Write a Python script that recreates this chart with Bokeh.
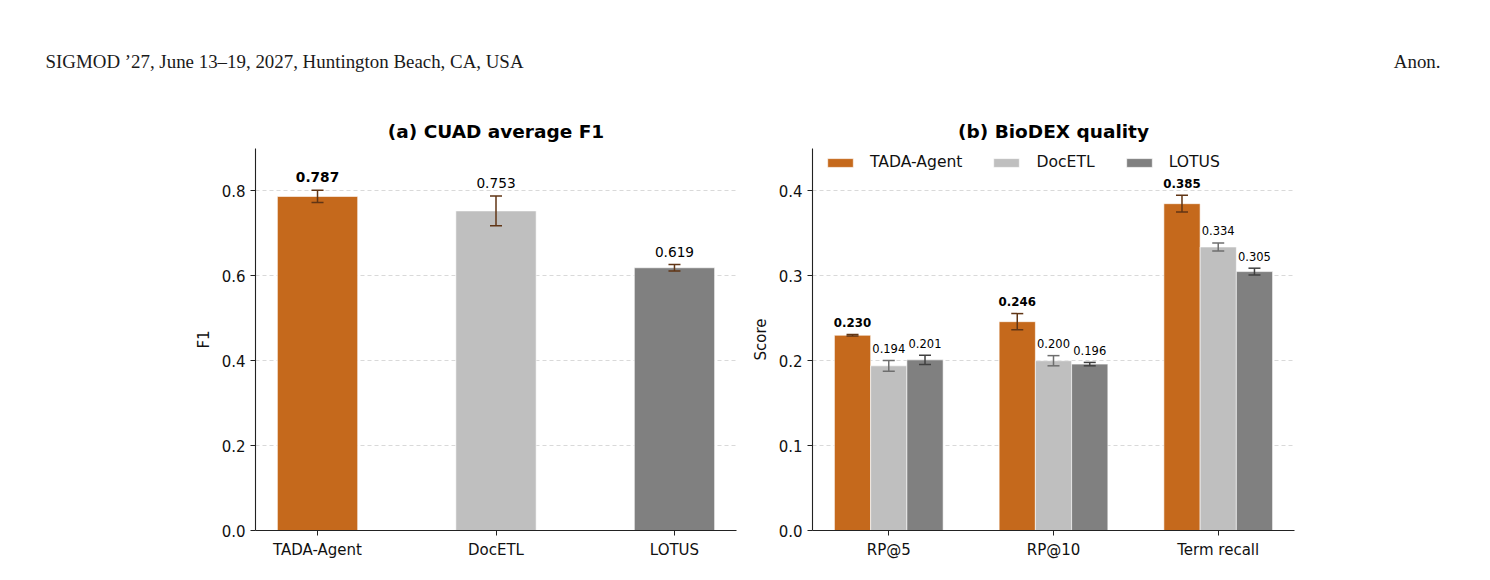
from bokeh.plotting import figure
from bokeh.models import (Range1d, FixedTicker, Whisker, TeeHead, ColumnDataSource,
                          Title, Legend, LegendItem, PrintfTickFormatter)
from bokeh.layouts import row
from bokeh.embed import file_html
from bokeh.resources import INLINE
from bokeh.core.properties import value

# ---------------- data ----------------
systems = ["TADA-Agent", "DocETL", "LOTUS"]
colors = ["#c5691c", "#bfbfbf", "#808080"]
err_colors = ["#603515", "#6e6e6e", "#404040"]

cuad_f1 = [0.787, 0.753, 0.619]
cuad_err = [0.0145, 0.035, 0.0075]

biodex_metrics = ["RP@5", "RP@10", "Term recall"]
biodex_tada = [0.230, 0.246, 0.385]
biodex_tada_err = [0.001, 0.0095, 0.0098]
biodex_docetl = [0.194, 0.200, 0.334]
biodex_docetl_err = [0.0063, 0.006, 0.0047]
biodex_lotus = [0.201, 0.196, 0.305]
biodex_lotus_err = [0.0055, 0.002, 0.004]

header_left = "SIGMOD \u201927, June 13\u201319, 2027, Huntington Beach, CA, USA"
header_right = "Anon."

FONT = "DejaVu Sans"
TICK_FS = "15px"


def style(p, yticks, ylabel):
    p.outline_line_color = None
    p.xgrid.visible = False
    p.ygrid.ticker = FixedTicker(ticks=yticks)
    p.ygrid.grid_line_color = "#d9d9d9"
    p.ygrid.grid_line_dash = "4 3"
    p.ygrid.grid_line_width = 1
    for ax in (p.xaxis[0], p.yaxis[0]):
        ax.axis_line_color = "#222222"
        ax.axis_line_width = 1.1
        ax.major_tick_line_color = "#222222"
        ax.major_tick_out = 5
        ax.major_tick_in = 0
        ax.minor_tick_line_color = None
        ax.major_label_text_font = FONT
        ax.major_label_text_font_size = TICK_FS
        ax.major_label_text_color = "#111111"
        ax.major_label_standoff = 5
    p.yaxis[0].ticker = FixedTicker(ticks=yticks)
    p.yaxis[0].formatter = PrintfTickFormatter(format="%.1f")
    p.yaxis[0].axis_label = ylabel
    p.yaxis[0].axis_label_text_font = FONT
    p.yaxis[0].axis_label_text_font_size = TICK_FS
    p.yaxis[0].axis_label_text_font_style = "normal"
    p.yaxis[0].axis_label_text_color = "#111111"
    p.yaxis[0].axis_label_standoff = 6


def titles(p, main_text, head_text, head_align, head_offset):
    main = Title(text=main_text, align="center", text_font=FONT, text_font_size="18.5px",
                 text_font_style="bold", text_color="#000000", standoff=14)
    p.add_layout(main, "above")
    head = Title(text=head_text, align=head_align, offset=head_offset,
                 text_font="Liberation Serif", text_font_size="18.9px",
                 text_font_style="normal", text_color="#1a1a1a", standoff=80)
    p.add_layout(head, "above")


# ---------------- (a) CUAD ----------------
pa = figure(width=740, height=580, output_backend="svg", toolbar_location=None,
            x_range=Range1d(-0.3475, 2.3475), y_range=Range1d(0, 0.9),
            min_border_left=255, min_border_right=4, min_border_top=148, min_border_bottom=50)
xa = list(range(len(systems)))
src_a = ColumnDataSource(dict(x=xa, top=cuad_f1, color=colors,
                              upper=[v + e for v, e in zip(cuad_f1, cuad_err)],
                              lower=[v - e for v, e in zip(cuad_f1, cuad_err)],
                              label=["%.3f" % v for v in cuad_f1]))
pa.vbar(x="x", top="top", width=0.45, source=src_a, fill_color="color",
        line_color="white", line_width=1, line_alpha=0.6)
wa = Whisker(source=src_a, base="x", upper="upper", lower="lower", dimension="height",
             line_color=err_colors[0], line_width=1.5, level="overlay",
             upper_head=TeeHead(size=12, line_color=err_colors[0], line_width=1.5),
             lower_head=TeeHead(size=12, line_color=err_colors[0], line_width=1.5))
pa.add_layout(wa)
style(pa, [0.0, 0.2, 0.4, 0.6, 0.8], "F1")
pa.xaxis[0].ticker = FixedTicker(ticks=xa)
pa.xaxis[0].major_label_overrides = {i: s for i, s in enumerate(systems)}

best_a = max(range(len(cuad_f1)), key=lambda i: cuad_f1[i])
for i in range(len(systems)):
    s = ColumnDataSource(dict(x=[xa[i]], y=[src_a.data["upper"][i]], t=[src_a.data["label"][i]]))
    pa.text(x="x", y="y", text="t", source=s, text_align="center", text_baseline="alphabetic",
            y_offset=-13, text_font=value(FONT), text_font_size="13.7px",
            text_font_style="bold" if i == best_a else "normal", text_color="#000000")

titles(pa, "(a) CUAD average F1", header_left, "left", 45 - 255)

# ---------------- (b) BioDEX ----------------
pb = figure(width=750, height=580, output_backend="svg", toolbar_location=None,
            x_range=Range1d(-0.463, 2.463), y_range=Range1d(0, 0.45),
            min_border_left=72, min_border_right=196, min_border_top=148, min_border_bottom=50)
style(pb, [0.0, 0.1, 0.2, 0.3, 0.4], "Score")
xb = list(range(len(biodex_metrics)))
pb.xaxis[0].ticker = FixedTicker(ticks=xb)
pb.xaxis[0].major_label_overrides = {i: s for i, s in enumerate(biodex_metrics)}

series = [biodex_tada, biodex_docetl, biodex_lotus]
series_err = [biodex_tada_err, biodex_docetl_err, biodex_lotus_err]
bw = 0.22
offsets = [-bw, 0.0, bw]
items = []
for k in range(3):
    vals, errs = series[k], series_err[k]
    xs = [x + offsets[k] for x in xb]
    s = ColumnDataSource(dict(x=xs, top=vals,
                              upper=[v + e for v, e in zip(vals, errs)],
                              lower=[v - e for v, e in zip(vals, errs)],
                              label=["%.3f" % v for v in vals]))
    r = pb.vbar(x="x", top="top", width=bw, source=s, fill_color=colors[k],
                line_color="white", line_width=1, line_alpha=0.6)
    items.append(LegendItem(label=systems[k], renderers=[r]))
    w = Whisker(source=s, base="x", upper="upper", lower="lower", dimension="height",
                line_color=err_colors[k], line_width=1.5, level="overlay",
                upper_head=TeeHead(size=12, line_color=err_colors[k], line_width=1.5),
                lower_head=TeeHead(size=12, line_color=err_colors[k], line_width=1.5))
    pb.add_layout(w)
    pb.text(x="x", y="upper", text="label", source=s, text_align="center",
            text_baseline="alphabetic", y_offset=-12, text_font=value(FONT),
            text_font_size="11.8px" if k == 0 else "11.5px",
            text_font_style="bold" if k == 0 else "normal", text_color="#000000")

legend = Legend(items=items, location=(12, 359), orientation="horizontal",
                label_text_font=FONT, label_text_font_size="15.6px", label_text_color="#111111",
                glyph_width=32, glyph_height=11, label_standoff=14, spacing=28,
                margin=0, padding=4, border_line_color=None, background_fill_alpha=0)
pb.add_layout(legend)

titles(pb, "(b) BioDEX quality", header_right, "right", -(1440 - 1294))

layout = row(pa, pb)
open("out.html", "w").write(file_html(layout, INLINE))
